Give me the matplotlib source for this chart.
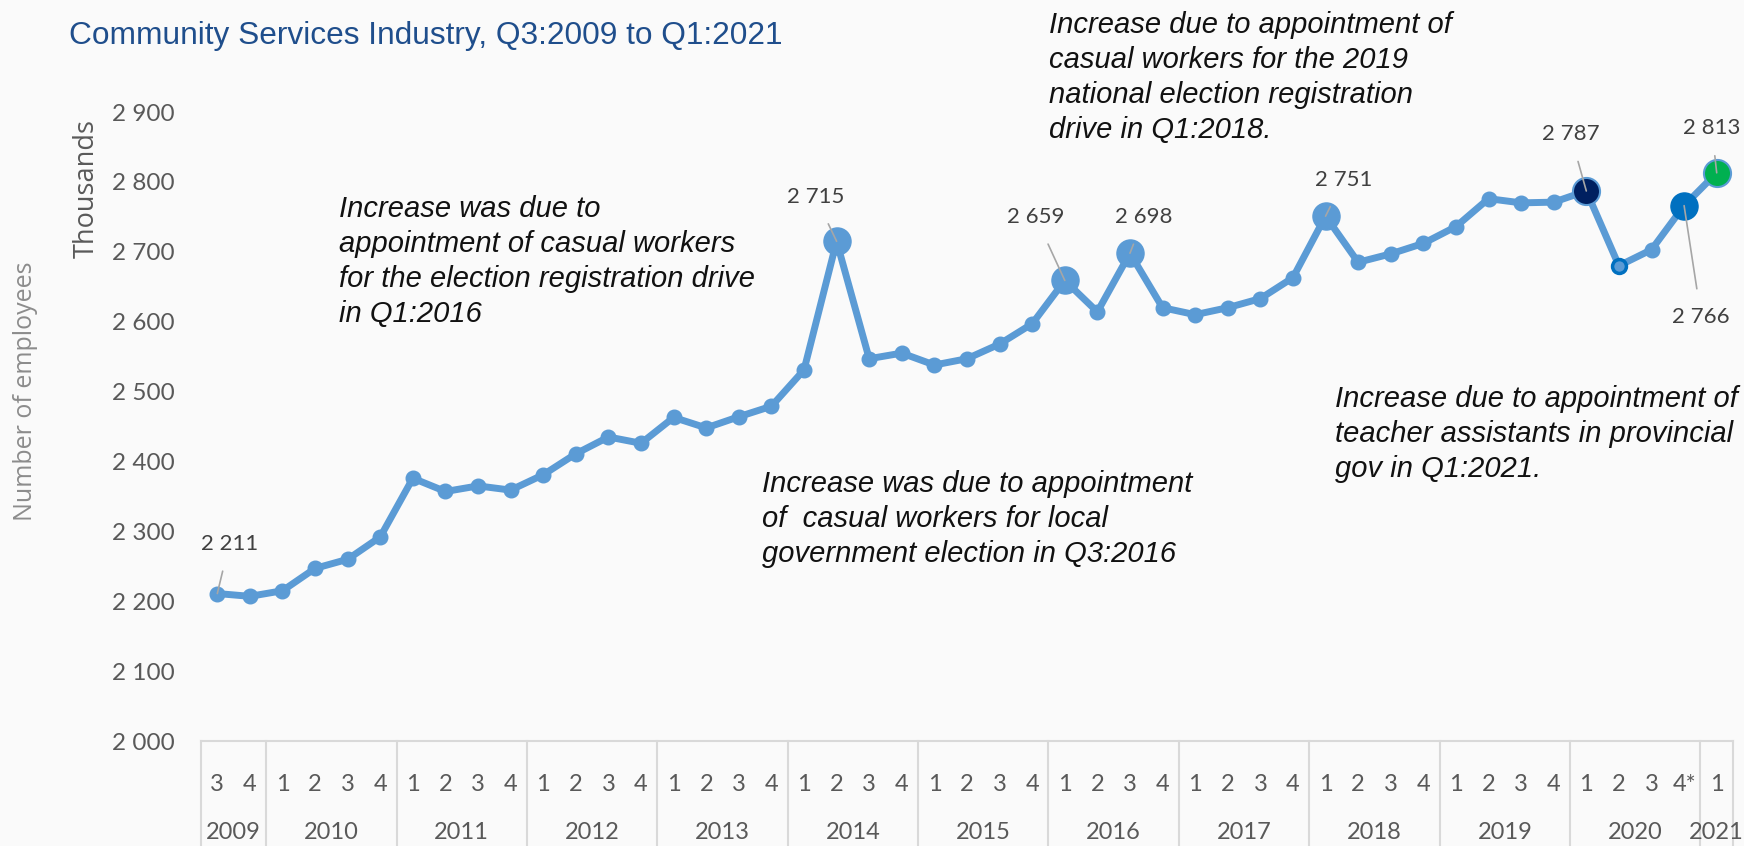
import numpy as np
import matplotlib.pyplot as plt

# data (thousands of employees), Q3:2009 .. Q1:2021
years = ['2009', '2010', '2011', '2012', '2013', '2014', '2015', '2016',
         '2017', '2018', '2019', '2020', '2021']
quarters = (['3', '4'] + ['1', '2', '3', '4'] * 10
            + ['1', '2', '3', '4*'] + ['1'])
employees = [2211, 2207, 2215, 2247, 2260, 2292,
             2376, 2357, 2365, 2359,
             2381, 2411, 2435, 2426,
             2463, 2448, 2464, 2479,
             2531, 2715, 2547, 2555,
             2538, 2547, 2568, 2597,
             2659, 2614, 2698, 2620,
             2610, 2620, 2633, 2663,
             2751, 2685, 2697, 2712,
             2736, 2776, 2770, 2771,
             2787, 2680, 2703, 2766,
             2813]
labelled = [0, 19, 26, 28, 34, 42, 45, 46]

notes = [
    "Increase was due to\nappointment of casual workers\nfor the election registration drive\nin Q1:2016",
    "Increase was due to appointment\nof  casual workers for local\ngovernment election in Q3:2016",
    "Increase due to appointment of\ncasual workers for the 2019\nnational election registration\ndrive in Q1:2018.",
    "Increase due to appointment of\nteacher assistants in provincial\ngov in Q1:2021.",
]

W, H = 1744, 846
bg = '#fafafa'
blue = '#5b9bd5'
fig = plt.figure(figsize=(W / 100, H / 100), dpi=100, facecolor=bg)
ax = fig.add_axes([201 / W, (H - 741) / H, (1733 - 201) / W, (741 - 112) / H])
ax.set_facecolor(bg)

x = np.arange(len(employees))
y = np.array(employees)
ax.plot(x, y, color=blue, lw=5, marker='o', ms=10.5, zorder=2)

# highlighted points
big = [19, 26, 28, 34]
ax.plot(x[big], y[big], 'o', ms=19.5, color=blue, zorder=3)
ax.plot(x[42], y[42], 'o', ms=19.5, mfc='#002060', mec=blue, mew=1.5, zorder=3)
ax.plot(x[45], y[45], 'o', ms=19.5, mfc='#0070c0', mec='#0070c0', zorder=3)
ax.plot(x[46], y[46], 'o', ms=19.5, mfc='#00b050', mec=blue, mew=1.5, zorder=3)
ax.plot(x[43], y[43], 'o', ms=10, mfc=blue, mec='#0070c0', mew=2.5, zorder=3)

# data labels with leader lines (offsets in pixels)
offs = {0: (12, 50), 19: (-21, 44), 26: (-29, 63), 28: (14, 36),
        34: (18, 36), 42: (-16, 57), 45: (17, -111), 46: (-5, 45)}
for i in labelled:
    v = employees[i]
    txt = '{:,}'.format(v).replace(',', ' ')
    ax.annotate(txt, (x[i], y[i]), xytext=offs[i], textcoords='offset pixels',
                ha='center', va='center', fontsize=16, color='#404040',
                family='Lato', annotation_clip=False,
                arrowprops=dict(arrowstyle='-', color='#a6a6a6', lw=1.2,
                                shrinkA=11, shrinkB=0))

ax.set_xlim(-0.5, len(employees) - 0.5)
ax.set_ylim(2000, 2900)
ax.set_yticks(np.arange(2000, 2901, 100))
ax.set_yticklabels(['{:,}'.format(t).replace(',', ' ') for t in range(2000, 2901, 100)],
                   family='Lato', fontsize=17.5, color='#595959')
ax.tick_params(axis='y', length=0, pad=19)
ax.set_xticks([])
for s in ['left', 'right', 'top']:
    ax.spines[s].set_visible(False)
ax.spines['bottom'].set_color('#d9d9d9')
ax.spines['bottom'].set_linewidth(1.5)

# two-level category axis
tr = ax.get_xaxis_transform()
bot = -(H - 741) / (741 - 112)
for i, q in enumerate(quarters):
    ax.text(i, -43 / 629, q, transform=tr, ha='center', va='center',
            family='Lato', fontsize=17, color='#595959')
bounds = [-0.5]
pos = -0.5
counts = [2] + [4] * 11 + [1]
for c in counts:
    pos += c
    bounds.append(pos)
for b in bounds:
    ax.plot([b, b], [0, bot], transform=tr, color='#d9d9d9', lw=1.5, clip_on=False)
for k, yr in enumerate(years):
    ax.text((bounds[k] + bounds[k + 1]) / 2, -91 / 629, yr, transform=tr,
            ha='center', va='center', family='Lato', fontsize=17, color='#595959')

# axis titles and chart title
fig.text(87 / W, 1 - 189 / H, 'Thousands', rotation=90, ha='center', va='center',
         fontsize=19.5, color='#595959', family='Open Sans')
fig.text(25 / W, 1 - 391 / H, 'Number of employees', rotation=90, ha='center',
         va='center', fontsize=18, color='#8c8c8c', family='Open Sans')
fig.text(69 / W, 1 - 36 / H, 'Community Services Industry, Q3:2009 to Q1:2021',
         ha='left', va='center', fontsize=22.8, color='#1f4e8c',
         family='Liberation Sans')

# notes
note_pos = [(339, 195), (762, 470), (1049, 11), (1335, 385)]
for t, (px, py) in zip(notes, note_pos):
    fig.text(px / W, 1 - py / H, t, ha='left', va='top', fontsize=21,
             style='italic', family='Liberation Sans', color='#111111',
             linespacing=1.32)

fig.savefig('out.png', dpi=100, facecolor=bg)
